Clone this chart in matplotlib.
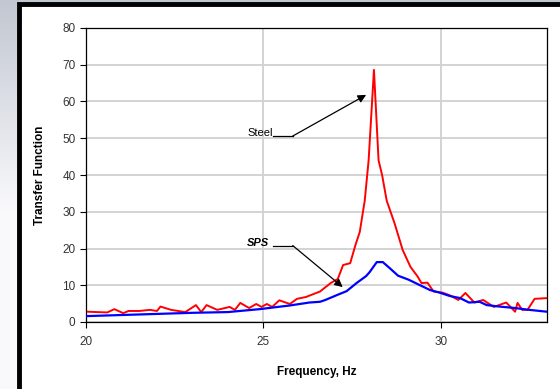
import numpy as np
import matplotlib
matplotlib.use("Agg")
import matplotlib.pyplot as plt
from matplotlib.patches import Rectangle

plt.rcParams['font.family'] = ['Liberation Sans', 'DejaVu Sans']

# Steel transfer function (red)
steel_f = [20.05, 20.3, 20.6, 20.8, 21.05, 21.2, 21.5, 21.8, 22.0, 22.1, 22.4, 22.6,
           22.8, 23.1, 23.25, 23.4, 23.7, 24.05, 24.2, 24.35, 24.6, 24.8, 24.95, 25.1,
           25.25, 25.45, 25.75, 25.95, 26.2, 26.6, 26.9, 27.1, 27.25, 27.45, 27.6, 27.72,
           27.86, 27.97, 28.12, 28.25, 28.35, 28.48, 28.7, 28.93, 29.15, 29.35, 29.46,
           29.63, 29.8, 30.05, 30.25, 30.5, 30.7, 30.95, 31.2, 31.5, 31.85, 32.1, 32.17,
           32.3, 32.45, 32.65, 33.0]
steel_tf = [2.8, 2.7, 2.6, 3.5, 2.4, 3.0, 3.0, 3.3, 3.0, 4.2, 3.3, 3.0,
            2.7, 4.6, 2.7, 4.6, 3.3, 4.1, 3.3, 5.2, 3.8, 4.9, 4.1, 4.9,
            4.1, 5.9, 4.9, 6.3, 6.8, 8.3, 10.6, 11.7, 15.5, 16.0, 21.0, 24.5,
            33.0, 44.0, 68.6, 44.0, 40.0, 33.0, 26.9, 19.6, 15.0, 12.4, 10.6,
            10.7, 8.3, 8.0, 7.3, 6.0, 7.9, 5.3, 6.0, 4.1, 5.3, 2.8, 5.2,
            3.3, 3.3, 6.3, 6.5]

# SPS transfer function (blue)
sps_f = [20.0, 21.0, 22.0, 23.0, 24.0, 24.9, 25.75, 26.3, 26.6, 26.75, 27.07, 27.35,
         27.63, 27.9, 28.0, 28.2, 28.37, 28.56, 28.8, 29.1, 29.4, 29.7, 29.97, 30.25,
         30.55, 30.8, 31.1, 31.3, 31.66, 32.1, 32.5, 33.0]
sps_tf = [1.6, 1.9, 2.2, 2.5, 2.7, 3.5, 4.5, 5.3, 5.5, 6.0, 7.3, 8.4,
          10.6, 12.5, 13.6, 16.3, 16.3, 14.7, 12.6, 11.5, 10.1, 8.7, 8.0, 7.1,
          6.5, 5.3, 5.5, 4.6, 4.2, 3.8, 3.3, 2.8]

x_ticks = [20, 25, 30]
y_ticks = [0, 10, 20, 30, 40, 50, 60, 70, 80]

fig = plt.figure(figsize=(5.6, 3.89), dpi=100)

# slide-style background: grey gradient with a framed white panel
bg = fig.add_axes([0, 0, 1, 1], zorder=-10)
grad = np.linspace(0, 1, 256).reshape(-1, 1)
top_c = np.array([0.76, 0.78, 0.82])
bot_c = np.array([0.98, 0.98, 0.99])
t = np.clip(grad / 0.55, 0, 1)
cols = (top_c * (1 - t) + bot_c * t).reshape(256, 1, 3)
bg.imshow(cols, aspect='auto', extent=[0, 1, 0, 1], origin='upper')
bg.add_patch(Rectangle((19 / 560, -0.05), 1.1, (389 - 4) / 389 + 0.05,
                       facecolor='white', edgecolor='black', linewidth=3.5,
                       transform=bg.transAxes))
bg.set_xlim(0, 1)
bg.set_ylim(0, 1)
bg.axis('off')

ax = fig.add_axes([86 / 560, 67 / 389, 461 / 560, 294 / 389])
ax.set_facecolor('white')

ax.plot(steel_f, steel_tf, color='#ff0000', lw=1.4, zorder=3)
ax.plot(sps_f, sps_tf, color='#0000ff', lw=1.6, zorder=3)

ax.set_xlim(20, 33)
ax.set_ylim(0, 80)
ax.set_xticks(x_ticks)
ax.set_yticks(y_ticks)
ax.grid(True, color='#d0d0d0', lw=1.3, zorder=0)
ax.set_axisbelow(True)
ax.tick_params(direction='out', length=4, width=0.8, labelsize=8.5, colors='black',
               labelcolor='#333333')
ax.tick_params(axis='x', pad=6)
for s in ax.spines.values():
    s.set_linewidth(0.9)
    s.set_color('black')

ax.set_xlabel('Frequency, Hz', fontsize=8.5, fontweight='bold', labelpad=13)
ax.set_ylabel('Transfer Function', fontsize=8.5, fontweight='bold', labelpad=12)

# annotations
ax.text(24.54, 51.4, 'Steel', fontsize=8, ha='left', va='center')
ax.plot([25.27, 25.83], [50.6, 50.6], color='black', lw=0.9)
ax.annotate('', xy=(27.9, 61.8), xytext=(25.83, 50.6),
            arrowprops=dict(arrowstyle='-|>', color='black', lw=0.9,
                            mutation_scale=12, shrinkA=0, shrinkB=0))

ax.text(24.54, 21.5, 'SPS', fontsize=8, ha='left', va='center',
        fontstyle='italic', fontweight='bold')
ax.plot([25.27, 25.83], [20.8, 20.8], color='black', lw=0.9)
ax.annotate('', xy=(27.24, 9.5), xytext=(25.83, 20.8),
            arrowprops=dict(arrowstyle='-|>', color='black', lw=0.9,
                            mutation_scale=12, shrinkA=0, shrinkB=0))

fig.savefig('out.png', dpi=100)
